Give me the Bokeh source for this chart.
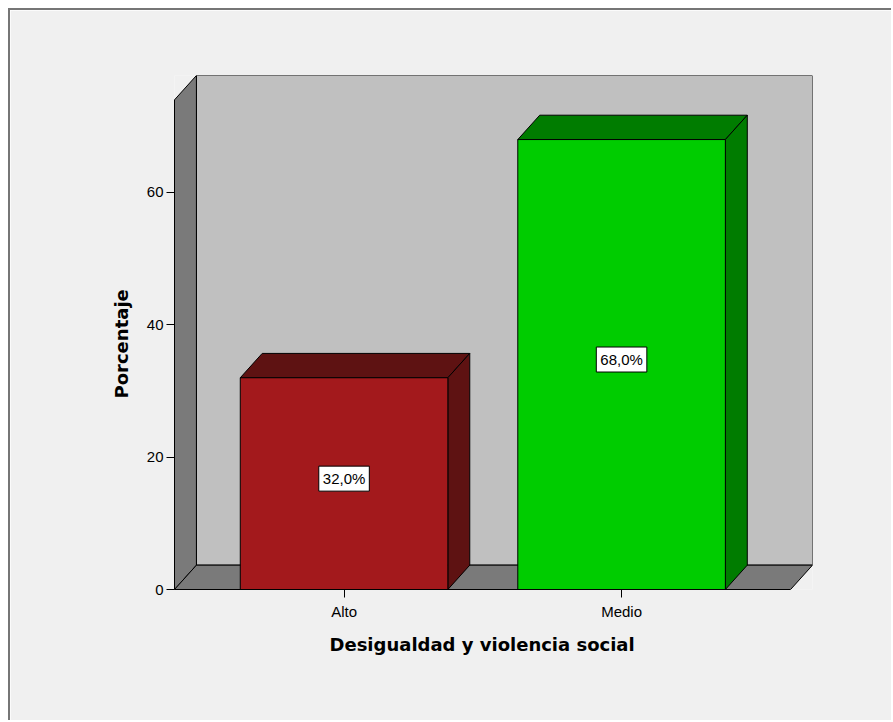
from bokeh.plotting import figure
from bokeh.models import Range1d, FixedTicker, ColumnDataSource, Title
from bokeh.core.properties import value
from bokeh.embed import file_html
from bokeh.resources import INLINE

# ---- data ----
categories = ["Alto", "Medio"]
percentages = [32.0, 68.0]
labels = ["32,0%", "68,0%"]
y_ticks = [0, 20, 40, 60]
front_colors = ["#a3191c", "#00cc00"]
dark_colors = ["#5e1212", "#007c00"]

# ---- geometry (data units) ----
xs = list(range(len(categories)))
half_w = 0.374
x_start = -0.611
x_front_end = 1.609
y_front_top = 74.0
DX = 0.079
DY = 3.68
x_end = x_front_end + DX
y_end = y_front_top + DY

p = figure(width=883, height=712, output_backend="svg", toolbar_location=None,
           x_range=Range1d(x_start, x_end), y_range=Range1d(0, y_end),
           min_border_left=164, min_border_top=65, min_border_right=81, min_border_bottom=133)
p.styles = {"border-left": "2px solid #767676", "border-top": "2px solid #767676",
            "margin-left": "8px", "margin-top": "8px"}
p.background_fill_color = "#f0f0f0"
p.border_fill_color = "#f0f0f0"
p.outline_line_color = None
p.grid.visible = False

# walls
p.patch([x_start + DX, x_end, x_end, x_start + DX], [DY, DY, y_end, y_end],
        fill_color="#c0c0c0", line_color="black", line_width=1)
p.patch([x_start, x_start, x_start + DX, x_start + DX], [0, y_front_top, y_end, DY],
        fill_color="#7a7a7a", line_color="black", line_width=1)
p.patch([x_start, x_front_end, x_front_end + DX, x_start + DX], [0, 0, DY, DY],
        fill_color="#7a7a7a", line_color="black", line_width=1)

# bars
top_xs, top_ys, side_xs, side_ys = [], [], [], []
for x, v in zip(xs, percentages):
    top_xs.append([x - half_w, x + half_w, x + half_w + DX, x - half_w + DX])
    top_ys.append([v, v, v + DY, v + DY])
    side_xs.append([x + half_w, x + half_w + DX, x + half_w + DX, x + half_w])
    side_ys.append([0, DY, v + DY, v])
p.patches(top_xs, top_ys, fill_color=dark_colors, line_color="black", line_width=1)
p.patches(side_xs, side_ys, fill_color=dark_colors, line_color="black", line_width=1)
src = ColumnDataSource(dict(x=xs, top=percentages, color=front_colors,
                            mid=[v / 2 for v in percentages], lab=labels))
p.vbar(x="x", top="top", bottom=0, width=2 * half_w, source=src,
       fill_color="color", line_color="black", line_width=1)

p.text(x="x", y="mid", text="lab", source=src, text_align="center", text_baseline="middle",
       text_font=value("Liberation Sans"), text_font_size="15px", text_color="black",
       y_offset=-5, background_fill_color="white", border_line_color="black",
       border_line_width=1, padding=4)

# axes
ya = p.yaxis[0]
ya.ticker = FixedTicker(ticks=y_ticks)
ya.bounds = (0, y_front_top)
xa = p.xaxis[0]
xa.ticker = FixedTicker(ticks=xs)
xa.major_label_overrides = {i: c for i, c in enumerate(categories)}
xa.bounds = (x_start, x_front_end)
for ax in (xa, ya):
    ax.axis_line_color = "black"
    ax.major_tick_line_color = "black"
    ax.minor_tick_line_color = None
    ax.major_tick_in = 0
    ax.major_tick_out = 8
    ax.major_label_text_font = "Liberation Sans"
    ax.major_label_text_font_size = "15px"
    ax.major_label_text_color = "black"
ya.major_label_standoff = 3
xa.major_label_standoff = 5

# axis titles, centred on the front axes
ytitle = Title(text="Porcentaje", align="left", offset=191, text_font="DejaVu Sans",
               text_font_style="bold", text_font_size="18px", text_color="black", standoff=24)
p.add_layout(ytitle, "left")
xtitle = Title(text="Desigualdad y violencia social", align="left", offset=155,
               text_font="DejaVu Sans", text_font_style="bold", text_font_size="18px",
               text_color="black", standoff=18)
p.add_layout(xtitle, "below")

open("out.html", "w").write(file_html(p, INLINE))
